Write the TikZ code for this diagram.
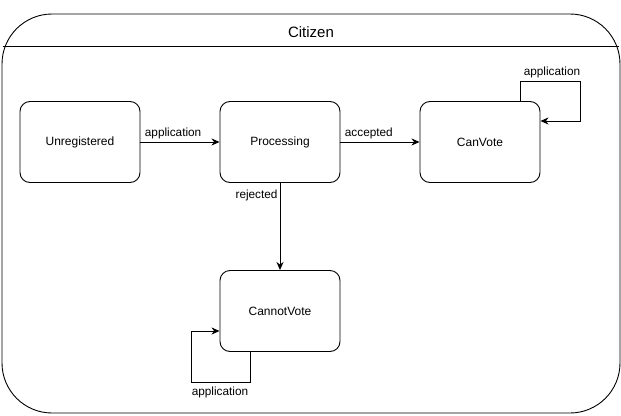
\documentclass[tikz,border=0pt]{standalone}
\usepackage{fontspec}
\setmainfont{Liberation Sans}
\usetikzlibrary{arrows.meta}
\begin{document}
\begin{tikzpicture}[x=1pt,y=-1pt,
  state/.style={draw, line width=0.9pt, rounded corners=10pt, minimum width=120pt, minimum height=81pt, font=\fontsize{12}{14}\selectfont, inner sep=0pt},
  arr/.style={draw, line width=0.9pt, -{Stealth[length=8pt,width=7pt,inset=2.5pt]}},
  lbl/.style={font=\fontsize{11.8}{13}\selectfont, inner sep=2pt}]
\useasboundingbox (0,0) rectangle (621,415);
\node[draw, line width=0.9pt, rounded corners=50pt, minimum width=618pt, minimum height=399pt, inner sep=0pt] (container) at (311,213.5) {};
\node[font=\fontsize{15}{18}\selectfont] (title) at (311,32) {Citizen};
\coordinate (sepl) at (3,46);
\coordinate (sepr) at (619,46);
\draw[line width=0.9pt] (sepl) -- (sepr);

\node[state] (u) at (80,142) {Unregistered};
\node[state] (p) at (280,142) {Processing};
\node[state] (cv) at (480,142) {CanVote};
\node[state] (cnv) at (280,311) {CannotVote};

\draw[arr] (u) -- node[lbl, above right, pos=0, yshift=1pt, xshift=2pt] {application} (p);
\draw[arr] (p) -- node[lbl, above right, pos=0, yshift=1pt, xshift=2pt] {accepted} (cv);
\draw[arr] (p) -- node[lbl, below left, pos=0, yshift=-5pt] {rejected} (cnv);

\draw[arr] ([xshift=40pt]cv.north) |- ++(60,-20) |- ([yshift=21pt]cv.east);
\node[lbl] (l1) at (552,72) {application};
\draw[arr] ([xshift=-30pt]cnv.south) |- ++(-59,30) |- ([yshift=-20pt]cnv.west);
\node[lbl] (l2) at (220,392) {application};
\end{tikzpicture}
\end{document}
